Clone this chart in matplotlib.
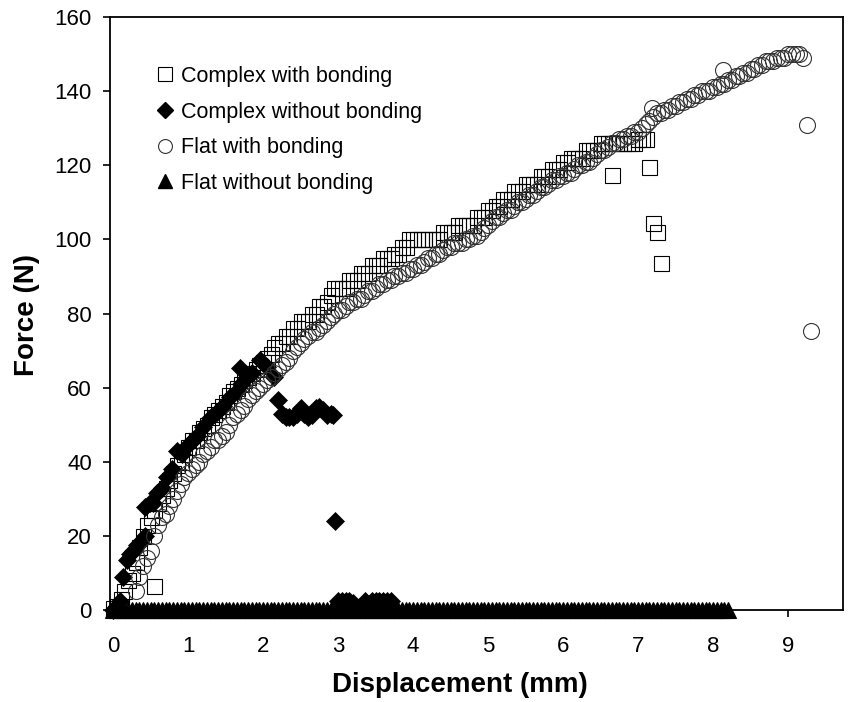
import matplotlib.pyplot as plt
from matplotlib.lines import Line2D

# Complex with bonding (open squares)
cwb_x = [0.00, 0.05, 0.10, 0.15, 0.20, 0.25, 0.30, 0.35, 0.40, 0.45,
         0.50, 0.55, 0.60, 0.65, 0.70, 0.75, 0.80, 0.85, 0.90, 0.95,
         1.00, 1.05, 1.10, 1.15, 1.20, 1.25, 1.30, 1.35, 1.40, 1.45,
         1.50, 1.55, 1.60, 1.65, 1.70, 1.75, 1.80, 1.85, 1.90, 1.95,
         2.00, 2.05, 2.10, 2.15, 2.20, 2.25, 2.30, 2.35, 2.40, 2.45,
         2.50, 2.55, 2.60, 2.65, 2.70, 2.75, 2.80, 2.85, 2.90, 2.95,
         3.00, 3.05, 3.10, 3.15, 3.20, 3.25, 3.30, 3.35, 3.40, 3.45,
         3.50, 3.55, 3.60, 3.65, 3.70, 3.75, 3.80, 3.85, 3.90, 3.95,
         4.00, 4.05, 4.10, 4.15, 4.20, 4.25, 4.30, 4.35, 4.40, 4.45,
         4.50, 4.55, 4.60, 4.65, 4.70, 4.75, 4.80, 4.85, 4.90, 4.95,
         5.00, 5.05, 5.10, 5.15, 5.20, 5.25, 5.30, 5.35, 5.40, 5.45,
         5.50, 5.55, 5.60, 5.65, 5.70, 5.75, 5.80, 5.85, 5.90, 5.95,
         6.00, 6.05, 6.10, 6.15, 6.20, 6.25, 6.30, 6.35, 6.40, 6.45,
         6.50, 6.55, 6.60, 6.65, 6.70, 6.75, 6.80, 6.85, 6.90, 6.95,
         7.00, 7.05, 7.10,
         0.55, 6.65, 7.15, 7.20, 7.25, 7.30]
cwb_y = [0.5, 1, 3, 5, 8, 10, 13, 17, 20, 23,
         25, 27, 29, 31, 33, 35, 37, 39, 40, 42,
         44, 46, 46, 48, 49, 50, 52, 53, 54, 55,
         56, 58, 59, 60, 61, 62, 63, 64, 65, 66,
         67, 68, 69, 71, 72, 72, 74, 74, 76, 76,
         78, 78, 78, 80, 80, 82, 82, 83, 85, 87,
         87, 87, 87, 89, 89, 89, 91, 91, 91, 93,
         93, 93, 95, 95, 95, 96, 96, 98, 98, 100,
         100, 100, 100, 100, 100, 100, 100, 100, 102, 102,
         102, 102, 104, 104, 104, 104, 104, 106, 106, 106,
         108, 108, 109, 109, 111, 111, 111, 113, 113, 113,
         115, 115, 115, 115, 117, 117, 117, 119, 119, 119,
         121, 121, 122, 122, 122, 122, 124, 124, 124, 124,
         126, 126, 126, 126, 126, 126, 126, 126, 126, 126,
         127, 127, 127,
         6.5, 117.4, 119.5, 104.4, 102, 93.6]

# Complex without bonding (filled diamonds)
cnb_x = [0.00, 0.05, 0.09, 0.13, 0.18, 0.22, 0.27, 0.32, 0.36, 0.42,
         0.43, 0.49, 0.53, 0.58, 0.65, 0.72, 0.78, 0.85, 0.92, 1.00,
         1.06, 1.12, 1.20, 1.29, 1.38, 1.47, 1.56, 1.65, 1.70, 1.69,
         1.78, 1.85, 1.96, 2.05, 2.14, 2.20, 2.25, 2.30, 2.35, 2.40,
         2.45, 2.50, 2.55, 2.60, 2.65, 2.70, 2.75, 2.80, 2.85, 2.90,
         2.93, 2.96, 3.00, 3.05, 3.10, 3.15, 3.20, 3.36, 3.45, 3.50,
         3.55, 3.60, 3.65, 3.70]
cnb_y = [0, 1, 2.5, 9, 13.5, 15, 16, 17.5, 18, 20,
         27.8, 28.8, 29, 31.5, 33, 36, 38, 43, 42, 44.5,
         46, 47, 49.4, 51.8, 53.4, 55, 57.5, 59, 61, 65.3,
         63, 64, 67.5, 65.6, 63, 56.7, 53, 52, 52, 52,
         53, 54.5, 53, 52, 52.5, 54.5, 54.8, 54, 52.5, 53,
         52.6, 24, 2.4, 2.4, 2.4, 2.4, 2.0, 2.4, 2.4, 2.4,
         2.4, 2.4, 2.4, 2.4]

# Flat with bonding (open circles)
fwb_x = [0.30, 0.35, 0.40, 0.45, 0.50, 0.55, 0.60, 0.65, 0.70, 0.75,
         0.80, 0.85, 0.90, 0.95, 1.00, 1.05, 1.10, 1.15, 1.20, 1.25,
         1.30, 1.35, 1.40, 1.45, 1.50, 1.55, 1.60, 1.65, 1.70, 1.75,
         1.80, 1.85, 1.90, 1.95, 2.00, 2.05, 2.10, 2.15, 2.20, 2.25,
         2.30, 2.35, 2.40, 2.45, 2.50, 2.55, 2.60, 2.65, 2.70, 2.75,
         2.80, 2.85, 2.90, 2.95, 3.00, 3.05, 3.10, 3.15, 3.20, 3.25,
         3.30, 3.35, 3.40, 3.45, 3.50, 3.55, 3.60, 3.65, 3.70, 3.75,
         3.80, 3.85, 3.90, 3.95, 4.00, 4.05, 4.10, 4.15, 4.20, 4.25,
         4.30, 4.35, 4.40, 4.45, 4.50, 4.55, 4.60, 4.65, 4.70, 4.75,
         4.80, 4.85, 4.90, 4.95, 5.00, 5.05, 5.10, 5.15, 5.20, 5.25,
         5.30, 5.35, 5.40, 5.45, 5.50, 5.55, 5.60, 5.65, 5.70, 5.75,
         5.80, 5.85, 5.90, 5.95, 6.00, 6.05, 6.10, 6.15, 6.20, 6.25,
         6.30, 6.35, 6.40, 6.45, 6.50, 6.55, 6.60, 6.65, 6.70, 6.75,
         6.80, 6.85, 6.90, 6.95, 7.00, 7.05, 7.10, 7.15, 7.20, 7.25,
         7.30, 7.35, 7.40, 7.45, 7.50, 7.55, 7.60, 7.65, 7.70, 7.75,
         7.80, 7.85, 7.90, 7.95, 8.00, 8.05, 8.10, 8.15, 8.20, 8.25,
         8.30, 8.35, 8.40, 8.45, 8.50, 8.55, 8.60, 8.65, 8.70, 8.75,
         8.80, 8.85, 8.90, 8.95, 9.00, 9.05, 9.10, 9.15, 9.20,
         7.19, 8.13, 9.25, 9.31]
fwb_y = [5, 9, 12, 14, 16, 20, 23, 25, 26, 28,
         30, 32, 34, 36, 37, 38, 39, 40, 42, 43,
         44, 46, 46, 47, 48, 50, 52, 53, 54, 55,
         57, 58, 59, 60, 61, 62, 63, 64, 65, 66,
         67, 68, 70, 71, 72, 73, 74, 75, 75, 76,
         77, 78, 79, 80, 81, 81, 82, 83, 83, 84,
         84, 85, 86, 86, 87, 88, 88, 89, 89, 90,
         90, 91, 91, 92, 92, 93, 93, 94, 95, 95,
         96, 96, 97, 98, 98, 99, 99, 99, 100, 100,
         101, 101, 102, 103, 104, 105, 106, 106, 107, 108,
         108, 109, 110, 110, 111, 112, 112, 113, 114, 114,
         115, 116, 116, 117, 117, 118, 118, 119, 120, 120,
         121, 121, 122, 123, 124, 124, 125, 126, 126, 127,
         127, 128, 128, 129, 129, 130, 131, 132, 133, 134,
         134, 135, 135, 136, 136, 137, 137, 138, 138, 139,
         139, 140, 140, 140, 141, 141, 142, 142, 143, 143,
         144, 144, 145, 145, 146, 146, 147, 147, 148, 148,
         148, 149, 149, 149, 150, 150, 150, 150, 149,
         135.4, 145.7, 130.9, 75.3]

# Flat without bonding (filled triangles)
fnb_x = [0.00, 0.05, 0.10, 0.15, 0.20, 0.25, 0.30, 0.35, 0.40, 0.45,
         0.50, 0.55, 0.60, 0.65, 0.70, 0.75, 0.80, 0.85, 0.90, 0.95,
         1.00, 1.05, 1.10, 1.15, 1.20, 1.25, 1.30, 1.35, 1.40, 1.45,
         1.50, 1.55, 1.60, 1.65, 1.70, 1.75, 1.80, 1.85, 1.90, 1.95,
         2.00, 2.05, 2.10, 2.15, 2.20, 2.25, 2.30, 2.35, 2.40, 2.45,
         2.50, 2.55, 2.60, 2.65, 2.70, 2.75, 2.80, 2.85, 2.90, 2.95,
         3.00, 3.05, 3.10, 3.15, 3.20, 3.25, 3.30, 3.35, 3.40, 3.45,
         3.50, 3.55, 3.60, 3.65, 3.70, 3.75, 3.80, 3.85, 3.90, 3.95,
         4.00, 4.05, 4.10, 4.15, 4.20, 4.25, 4.30, 4.35, 4.40, 4.45,
         4.50, 4.55, 4.60, 4.65, 4.70, 4.75, 4.80, 4.85, 4.90, 4.95,
         5.00, 5.05, 5.10, 5.15, 5.20, 5.25, 5.30, 5.35, 5.40, 5.45,
         5.50, 5.55, 5.60, 5.65, 5.70, 5.75, 5.80, 5.85, 5.90, 5.95,
         6.00, 6.05, 6.10, 6.15, 6.20, 6.25, 6.30, 6.35, 6.40, 6.45,
         6.50, 6.55, 6.60, 6.65, 6.70, 6.75, 6.80, 6.85, 6.90, 6.95,
         7.00, 7.05, 7.10, 7.15, 7.20, 7.25, 7.30, 7.35, 7.40, 7.45,
         7.50, 7.55, 7.60, 7.65, 7.70, 7.75, 7.80, 7.85, 7.90, 7.95,
         8.00, 8.05, 8.10, 8.15, 8.20]
fnb_y = [0, 0, 0, 0, 0, 0, 0, 0, 0, 0,
         0, 0, 0, 0, 0, 0, 0, 0, 0, 0,
         0, 0, 0, 0, 0, 0, 0, 0, 0, 0,
         0, 0, 0, 0, 0, 0, 0, 0, 0, 0,
         0, 0, 0, 0, 0, 0, 0, 0, 0, 0,
         0, 0, 0, 0, 0, 0, 0, 0, 0, 0,
         0, 0, 0, 0, 0, 0, 0, 0, 0, 0,
         0, 0, 0, 0, 0, 0, 0, 0, 0, 0,
         0, 0, 0, 0, 0, 0, 0, 0, 0, 0,
         0, 0, 0, 0, 0, 0, 0, 0, 0, 0,
         0, 0, 0, 0, 0, 0, 0, 0, 0, 0,
         0, 0, 0, 0, 0, 0, 0, 0, 0, 0,
         0, 0, 0, 0, 0, 0, 0, 0, 0, 0,
         0, 0, 0, 0, 0, 0, 0, 0, 0, 0,
         0, 0, 0, 0, 0, 0, 0, 0, 0, 0,
         0, 0, 0, 0, 0, 0, 0, 0, 0, 0,
         0, 0, 0, 0, 0]

labels = ['Complex with bonding', 'Complex without bonding',
          'Flat with bonding', 'Flat without bonding']

plt.rcParams['font.family'] = ['Liberation Sans', 'DejaVu Sans']

fig = plt.figure(figsize=(8.48, 7.02), dpi=100)
ax = fig.add_axes([110 / 848, 92 / 702, 733 / 848, 593 / 702])

ax.plot(cnb_x, cnb_y, 'D', ms=9, mfc='black', mec='black', mew=0.5, clip_on=False)
ax.plot(cwb_x, cwb_y, 's', ms=10.8, mfc='none', mec='black', mew=0.8, clip_on=False)
ax.plot(fwb_x, fwb_y, 'o', ms=11.5, mfc='none', mec='#333333', mew=0.8, clip_on=False)
ax.plot(fnb_x, fnb_y, '^', ms=11.5, mfc='black', mec='black', mew=0.8, clip_on=False)

ax.set_xlim(-0.04, 9.73)
ax.set_ylim(0, 160)
ax.set_xticks(range(0, 10))
ax.set_yticks(range(0, 161, 20))
ax.tick_params(axis='both', direction='out', length=5, width=1.2, labelsize=16)
ax.tick_params(axis='x', pad=14)
ax.tick_params(axis='y', pad=8)
for s in ax.spines.values():
    s.set_linewidth(1.3)

fig.text(460 / 848, 1 - 685 / 702, 'Displacement (mm)', ha='center', va='center',
         fontsize=20, fontweight='bold')
fig.text(27 / 848, 1 - 315 / 702, 'Force (N)', ha='center', va='center',
         rotation=90, fontsize=20, fontweight='bold')

handles = [
    Line2D([], [], ls='none', marker='s', ms=10, mfc='white', mec='black', mew=0.8),
    Line2D([], [], ls='none', marker='D', ms=8, mfc='black', mec='black'),
    Line2D([], [], ls='none', marker='o', ms=10, mfc='white', mec='#333333', mew=0.8),
    Line2D([], [], ls='none', marker='^', ms=10.5, mfc='black', mec='black'),
]
ax.legend(handles, labels, loc='upper left', bbox_to_anchor=(159 / 848, 1 - 66 / 702),
          bbox_transform=fig.transFigure, frameon=False, fontsize=15.5,
          handlelength=0.6, handletextpad=0.4, labelspacing=0.68, borderpad=0,
          borderaxespad=0)

fig.savefig('out.png', dpi=100)
